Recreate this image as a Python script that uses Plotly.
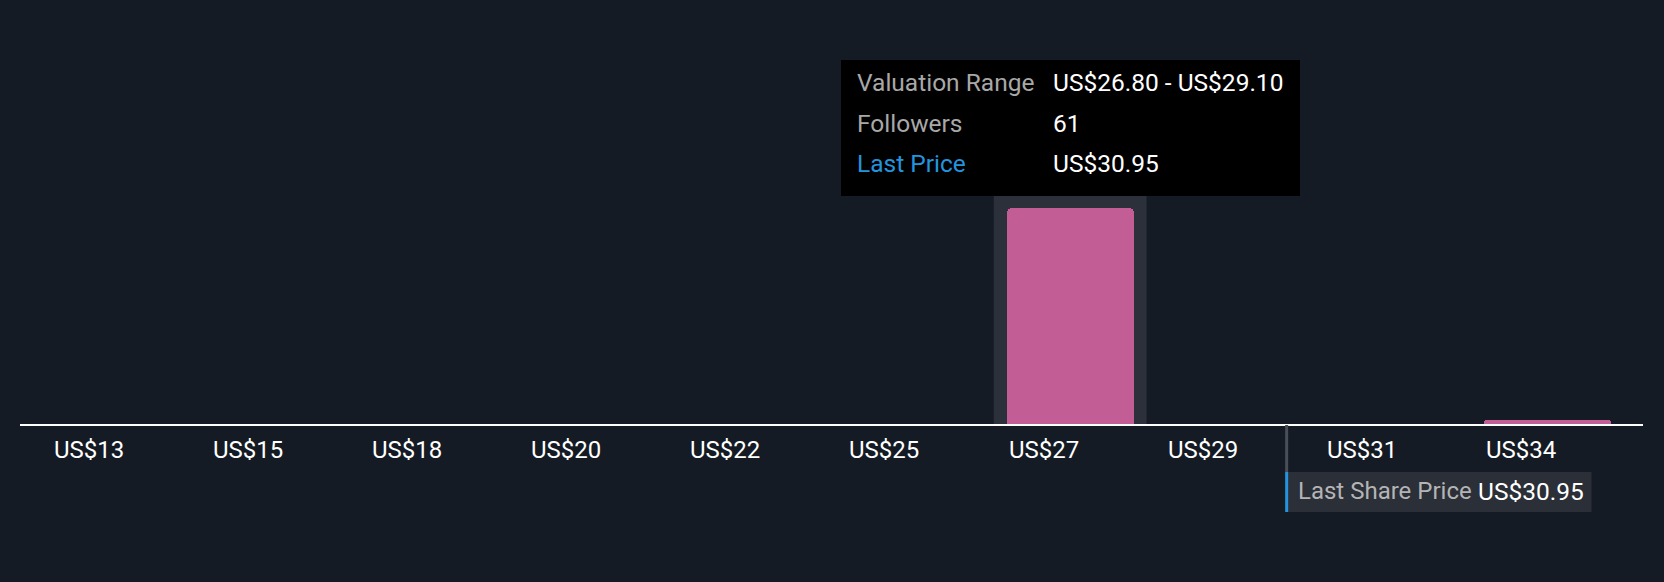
import plotly.graph_objects as go

# ---- data ----
bin_starts = [13.0, 15.3, 17.6, 19.9, 22.2, 24.5, 26.8, 29.1, 31.4, 33.7]
bin_width = 2.3
tick_labels = ["US$13", "US$15", "US$18", "US$20", "US$22", "US$25", "US$27", "US$29", "US$31", "US$34"]
followers = [0, 0, 0, 0, 0, 0, 61, 0, 0, 1]
last_price = 30.95
highlight_bin = 6

# ---- style ----
BG = "#151b24"
PINK = "#c25e95"
HILITE = "#2c303a"
FONT = "Roboto"
W, H = 1664, 582
ML, MR, MT, MB = 20, 21, 40, 158
plot_h = H - MT - MB

idx = list(range(len(bin_starts)))
ymax = max(followers) * 384 / 216

fig = go.Figure()
fig.add_trace(go.Bar(
    x=idx, y=followers, width=0.8,
    marker=dict(color=PINK, cornerradius=5, line=dict(width=0)),
    hoverinfo="skip", showlegend=False,
))
# helper trace for price axis
fig.add_trace(go.Scatter(x=[bin_starts[0], bin_starts[-1] + bin_width], y=[0, 0], xaxis="x2",
                         mode="lines", line=dict(width=0), hoverinfo="skip", showlegend=False))

def py_to_paper(py):
    return (H - MB - py) / plot_h

def px_to_paper(px):
    return (px - ML) / (W - ML - MR)

shapes = []
shapes.append(dict(type="rect", xref="x", yref="paper",
                   x0=highlight_bin - 0.48, x1=highlight_bin + 0.48,
                   y0=0, y1=py_to_paper(150), fillcolor=HILITE, line=dict(width=0), layer="below"))
shapes.append(dict(type="line", xref="x2", yref="paper", x0=last_price, x1=last_price,
                   y0=py_to_paper(425), y1=py_to_paper(472), line=dict(color="#4a4e57", width=3)))
shapes.append(dict(type="rect", xref="x2", yref="paper", x0=last_price, x1=last_price + 4.32,
                   y0=py_to_paper(472), y1=py_to_paper(512), fillcolor="#2b2f38", line=dict(width=0)))
shapes.append(dict(type="line", xref="x2", yref="paper", x0=last_price, x1=last_price,
                   y0=py_to_paper(472), y1=py_to_paper(512), line=dict(color="#2394df", width=3)))
shapes.append(dict(type="rect", xref="paper", yref="paper",
                   x0=px_to_paper(841), x1=px_to_paper(1300),
                   y0=py_to_paper(196), y1=py_to_paper(60), fillcolor="#000000", line=dict(width=0)))

ann = []
for i, lab in zip(idx, tick_labels):
    ann.append(dict(x=i - 0.4, y=py_to_paper(450), xref="x", yref="paper", text=lab,
                    showarrow=False, xanchor="left", yanchor="middle",
                    font=dict(family=FONT, size=24, color="#ffffff")))

lo = bin_starts[highlight_bin]
hi = lo + bin_width
rows = [("Valuation Range", f"US${lo:.2f} - US${hi:.2f}", "#a8a8a8", 83),
        ("Followers", f"{followers[highlight_bin]}", "#a8a8a8", 123),
        ("Last Price", f"US${last_price:.2f}", "#2394df", 163)]
for lab, val, col, yy in rows:
    ann.append(dict(x=px_to_paper(855), y=py_to_paper(yy), xref="paper", yref="paper", text=lab,
                    showarrow=False, xanchor="left", yanchor="middle",
                    font=dict(family=FONT, size=24.5, color=col)))
    ann.append(dict(x=px_to_paper(1051), y=py_to_paper(yy), xref="paper", yref="paper", text=val,
                    showarrow=False, xanchor="left", yanchor="middle",
                    font=dict(family=FONT, size=24.5, color="#ffffff")))

ann.append(dict(x=px_to_paper(1296), y=py_to_paper(491), xref="paper", yref="paper",
                text="Last Share Price", showarrow=False, xanchor="left", yanchor="middle",
                font=dict(family=FONT, size=24, color="#b4b4b4")))
ann.append(dict(x=px_to_paper(1476), y=py_to_paper(491), xref="paper", yref="paper",
                text=f"US${last_price:.2f}", showarrow=False, xanchor="left", yanchor="middle",
                font=dict(family=FONT, size=24.5, color="#ffffff")))

fig.update_layout(
    width=W, height=H,
    paper_bgcolor=BG, plot_bgcolor=BG,
    margin=dict(l=ML, r=MR, t=MT, b=MB),
    showlegend=False,
    xaxis=dict(range=[-0.6, len(idx) - 0.4], showgrid=False, zeroline=False,
               showticklabels=False, ticks="", showline=True, linecolor="#ffffff", linewidth=2,
               fixedrange=True),
    xaxis2=dict(range=[bin_starts[0], bin_starts[-1] + bin_width], overlaying="x", side="top",
                visible=False, fixedrange=True),
    yaxis=dict(range=[0, ymax], visible=False, fixedrange=True),
    shapes=shapes, annotations=ann,
    bargap=0,
)

fig.write_html("out.html", config={"displayModeBar": False},
               post_script="document.body.style.margin='0';document.body.style.background='%s';" % BG)
